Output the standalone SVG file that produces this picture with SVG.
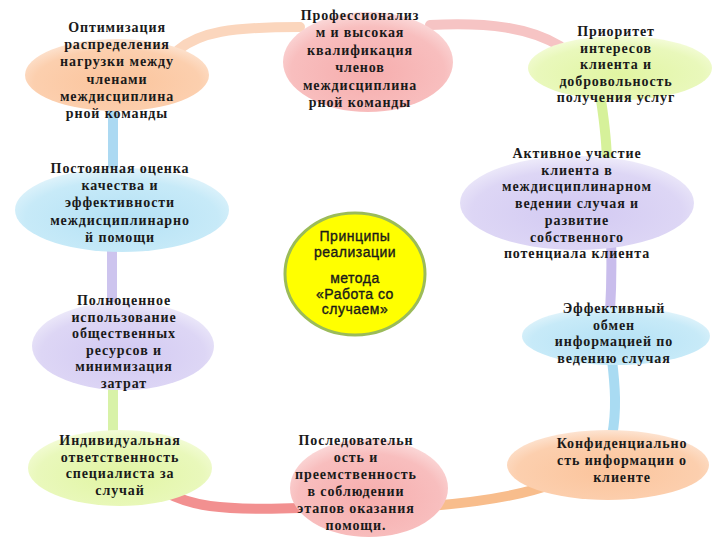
<svg xmlns="http://www.w3.org/2000/svg" width="720" height="540" viewBox="0 0 720 540">
<defs>
<radialGradient id="gPeach" cx="50%" cy="60%" r="60%"><stop offset="0" stop-color="#fbc49c"/><stop offset="0.75" stop-color="#fccfae"/><stop offset="1" stop-color="#fde4d2"/></radialGradient>
<radialGradient id="gPink" cx="50%" cy="60%" r="60%"><stop offset="0" stop-color="#f6adad"/><stop offset="0.75" stop-color="#f8bebe"/><stop offset="1" stop-color="#fbdada"/></radialGradient>
<radialGradient id="gGreen" cx="50%" cy="60%" r="60%"><stop offset="0" stop-color="#e1f5a2"/><stop offset="0.75" stop-color="#e9f8bb"/><stop offset="1" stop-color="#f4fcd9"/></radialGradient>
<radialGradient id="gBlue" cx="50%" cy="60%" r="60%"><stop offset="0" stop-color="#b4e1f5"/><stop offset="0.75" stop-color="#c7eaf8"/><stop offset="1" stop-color="#e2f4fb"/></radialGradient>
<radialGradient id="gPurple" cx="50%" cy="60%" r="60%"><stop offset="0" stop-color="#d2c9f2"/><stop offset="0.75" stop-color="#ddd6f5"/><stop offset="1" stop-color="#eeebfa"/></radialGradient>
</defs>
<style>
.t{font-family:"Liberation Serif","Times New Roman",serif;font-weight:bold;font-size:14px;letter-spacing:0.9px;fill:#1a1a1a;text-anchor:middle}
.c{font-family:"Liberation Sans",Arial,sans-serif;font-size:14px;letter-spacing:0.5px;fill:#1a1a1a;stroke:#1a1a1a;stroke-width:0.35;text-anchor:middle}
.seg{fill:none;stroke-width:10;stroke-linecap:round}
</style>
<rect width="720" height="540" fill="#ffffff"/>
<g id="connectors">
<path class="seg" d="M178 50 C200 32 230 27 300 27" stroke="#fbd6bd"/>
<path class="seg" d="M430 25 C490 22 530 28 560 46" stroke="#f6c4c4"/>
<path class="seg" d="M601 100 C604 120 607 140 607 165" stroke="#d6f19a"/>
<path class="seg" d="M611 240 C612 270 611 295 610 312" stroke="#c9bdec"/>
<path class="seg" d="M612 360 C615 385 617 410 612 436" stroke="#a9dbf2"/>
<path class="seg" d="M552 484 C520 496 480 502 430 506" stroke="#f8bd8c"/>
<path class="seg" d="M165 492 C190 505 215 511 300 508" stroke="#f29090"/>
<path class="seg" d="M113 105 L113 175" stroke="#acd9f2"/>
<path class="seg" d="M112 245 L112 305" stroke="#cdc4ee"/>
<path class="seg" d="M113 385 L113 435" stroke="#d8f2a8"/>
</g>
<g id="n1"><ellipse cx="117" cy="75" rx="92" ry="36" fill="url(#gPeach)"/>
<text class="t"><tspan x="117" y="32">Оптимизация</tspan><tspan x="117" y="49.2">распределения</tspan><tspan x="117" y="66.4">нагрузки между</tspan><tspan x="117" y="83.6">членами</tspan><tspan x="117" y="100.8">междисциплина</tspan><tspan x="117" y="118">рной команды</tspan></text></g>
<g id="n2"><ellipse cx="368" cy="62" rx="85" ry="50" fill="url(#gPink)"/>
<text class="t"><tspan x="360" y="20">Профессионализ</tspan><tspan x="360" y="37.4">м и высокая</tspan><tspan x="360" y="54.8">квалификация</tspan><tspan x="360" y="72.2">членов</tspan><tspan x="360" y="89.6">междисциплина</tspan><tspan x="360" y="107">рной команды</tspan></text></g>
<g id="n3"><ellipse cx="620" cy="68" rx="92" ry="32" fill="url(#gGreen)"/>
<text class="t"><tspan x="616" y="36">Приоритет</tspan><tspan x="616" y="52.5">интересов</tspan><tspan x="616" y="69">клиента и</tspan><tspan x="616" y="85.5">добровольность</tspan><tspan x="616" y="102">получения услуг</tspan></text></g>
<g id="n4"><ellipse cx="122" cy="210" rx="107" ry="42" fill="url(#gBlue)"/>
<text class="t"><tspan x="120" y="173">Постоянная оценка</tspan><tspan x="120" y="190.2">качества и</tspan><tspan x="120" y="207.4">эффективности</tspan><tspan x="120" y="224.6">междисциплинарно</tspan><tspan x="120" y="241.8">й помощи</tspan></text></g>
<g id="n5"><ellipse cx="355" cy="274" rx="70" ry="61" fill="#ffff00" stroke="#9bbb59" stroke-width="3"/>
<text class="c"><tspan x="355" y="241">Принципы</tspan><tspan x="355" y="257">реализации</tspan><tspan x="355" y="283">метода</tspan><tspan x="355" y="298.5">«Работа со</tspan><tspan x="355" y="314">случаем»</tspan></text></g>
<g id="n6"><ellipse cx="577" cy="203" rx="117" ry="47" fill="url(#gPurple)"/>
<text class="t"><tspan x="577" y="158">Активное участие</tspan><tspan x="577" y="174.7">клиента в</tspan><tspan x="577" y="191.4">междисциплинарном</tspan><tspan x="577" y="208.1">ведении случая и</tspan><tspan x="577" y="224.8">развитие</tspan><tspan x="577" y="241.5">собственного</tspan><tspan x="577" y="258.2">потенциала клиента</tspan></text></g>
<g id="n7"><ellipse cx="123" cy="346" rx="91" ry="44" fill="url(#gPurple)"/>
<text class="t"><tspan x="124" y="305">Полноценное</tspan><tspan x="124" y="321.6">использование</tspan><tspan x="124" y="338.2">общественных</tspan><tspan x="124" y="354.8">ресурсов и</tspan><tspan x="124" y="371.4">минимизация</tspan><tspan x="124" y="388">затрат</tspan></text></g>
<g id="n8"><ellipse cx="616" cy="336" rx="94" ry="29" fill="url(#gBlue)"/>
<text class="t"><tspan x="614" y="313">Эффективный</tspan><tspan x="614" y="329.7">обмен</tspan><tspan x="614" y="346.4">информацией по</tspan><tspan x="614" y="363">ведению случая</tspan></text></g>
<g id="n9"><ellipse cx="120" cy="468" rx="92" ry="38" fill="url(#gGreen)"/>
<text class="t"><tspan x="120" y="445">Индивидуальная</tspan><tspan x="120" y="461.7">ответственность</tspan><tspan x="120" y="478.4">специалиста за</tspan><tspan x="120" y="495">случай</tspan></text></g>
<g id="n10"><ellipse cx="369" cy="488" rx="79" ry="49" fill="url(#gPink)"/>
<text class="t"><tspan x="356" y="445">Последовательн</tspan><tspan x="356" y="462">ость и</tspan><tspan x="356" y="479">преемственность</tspan><tspan x="356" y="496">в соблюдении</tspan><tspan x="356" y="513">этапов оказания</tspan><tspan x="356" y="530">помощи.</tspan></text></g>
<g id="n11"><ellipse cx="608" cy="465" rx="101" ry="35" fill="url(#gPeach)"/>
<text class="t"><tspan x="622" y="448">Конфиденциально</tspan><tspan x="622" y="465">сть информации о</tspan><tspan x="622" y="482">клиенте</tspan></text></g>
</svg>
